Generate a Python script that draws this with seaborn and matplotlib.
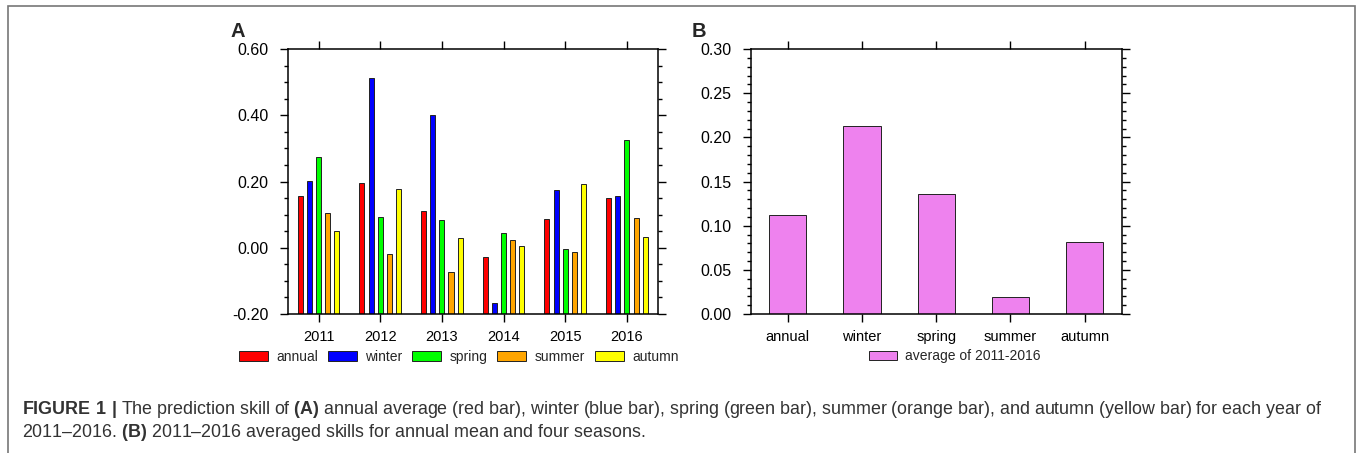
import matplotlib
matplotlib.use("Agg")
import pandas as pd
import matplotlib.pyplot as plt
import seaborn as sns
from matplotlib.patches import Patch, Rectangle
from matplotlib.ticker import MultipleLocator, FormatStrFormatter

# Values
years = ["2011", "2012", "2013", "2014", "2015", "2016"]
seasons = ["annual", "winter", "spring", "summer", "autumn"]
annual = [0.157, 0.195, 0.112, -0.027, 0.087, 0.149]
winter = [0.202, 0.512, 0.401, -0.166, 0.174, 0.155]
spring = [0.275, 0.093, 0.083, 0.044, -0.005, 0.326]
summer = [0.105, -0.018, -0.074, 0.022, -0.012, 0.091]
autumn = [0.051, 0.178, 0.028, 0.005, 0.194, 0.032]
avg_2011_2016 = [0.112, 0.213, 0.136, 0.019, 0.081]

season_colors = ["#FF0000", "#0000FF", "#00FF00", "#FFA500", "#FFFF00"]
avg_color = "#EE82EE"
edge = "#222222"
BASE = -0.2  # bars in panel A rise from the bottom of the axis

# Long table for panel A
dfA = pd.DataFrame({"year": years, "annual": annual, "winter": winter,
                    "spring": spring, "summer": summer, "autumn": autumn})
dfA = dfA.melt(id_vars="year", var_name="season", value_name="skill")
dfA["height"] = dfA["skill"] - BASE

dfB = pd.DataFrame({"season": seasons, "skill": avg_2011_2016})

sns.set_theme(style="ticks")
plt.rcParams["font.family"] = ["Liberation Sans", "DejaVu Sans"]
plt.rcParams["mathtext.fontset"] = "custom"
plt.rcParams["mathtext.rm"] = "Liberation Sans"
plt.rcParams["mathtext.bf"] = "Liberation Sans:bold"
plt.rcParams["axes.edgecolor"] = "black"

fig = plt.figure(figsize=(13.57, 4.53), dpi=100)
axA = fig.add_axes([0.2120, 0.3068, 0.2727, 0.585])
axB = fig.add_axes([0.5532, 0.3068, 0.2734, 0.585])

# A: yearly skills per season
sns.barplot(data=dfA, x="year", y="height", hue="season", order=years,
            hue_order=seasons, palette=season_colors, saturation=1,
            width=0.74, gap=0.45, bottom=BASE, edgecolor=edge,
            linewidth=0.7, legend=False, ax=axA)

# B: average over 2011-2016
sns.barplot(data=dfB, x="season", y="skill", order=seasons, color=avg_color,
            saturation=1, width=0.5, edgecolor=edge, linewidth=0.7, ax=axB)


def style(ax, ylim, major, minor, n):
    ax.set_xlim(-0.5, n - 0.5)
    ax.set_ylim(*ylim)
    ax.yaxis.set_major_locator(MultipleLocator(major))
    ax.yaxis.set_minor_locator(MultipleLocator(minor))
    ax.yaxis.set_major_formatter(FormatStrFormatter("%.2f"))
    ax.set_xlabel("")
    ax.set_ylabel("")
    for s in ax.spines.values():
        s.set_visible(True)
        s.set_linewidth(1.1)
        s.set_color("black")
    ax.tick_params(which="both", direction="out", top=True, right=True,
                   color="black", width=1.0, labelcolor="black")
    ax.tick_params(which="major", length=6)
    ax.tick_params(which="minor", length=3.2)
    ax.tick_params(axis="y", labelsize=11.5, pad=8)
    ax.tick_params(axis="x", labelsize=10.5, pad=5.5)


style(axA, (-0.2, 0.6), 0.2, 0.05, len(years))
style(axB, (0.0, 0.3), 0.05, 0.01, len(seasons))

# Legends under each panel
handlesA = [Patch(facecolor=c, edgecolor=edge, linewidth=0.7, label=s)
            for c, s in zip(season_colors, seasons)]
fig.legend(handles=handlesA, loc="center", bbox_to_anchor=(0.338, 0.212),
           ncol=5, frameon=False, fontsize=10, handlelength=2.1,
           handleheight=0.65, handletextpad=0.6, columnspacing=0.7,
           borderpad=0, borderaxespad=0)
handlesB = [Patch(facecolor=avg_color, edgecolor=edge, linewidth=0.7,
                  label="average of 2011-2016")]
fig.legend(handles=handlesB, loc="center", bbox_to_anchor=(0.7038, 0.214),
           frameon=False, fontsize=10, handlelength=2.0, handleheight=0.65,
           handletextpad=0.6, borderpad=0, borderaxespad=0)

# Panel letters
fig.text(0.1695, 0.919, "A", fontsize=14.5, fontweight="bold", va="baseline")
fig.text(0.510, 0.919, "B", fontsize=14.5, fontweight="bold", va="baseline")

# Caption
line1 = (r"$\mathbf{FIGURE\ 1\ |}$ The prediction skill of $\mathbf{(A)}$ annual "
         "average (red bar), winter (blue bar), spring (green bar), summer "
         "(orange bar), and autumn (yellow bar) for each year of")
line2 = (r"2011–2016. $\mathbf{(B)}$ 2011–2016 averaged skills for annual mean "
         "and four seasons.")
fig.text(0.0162, 0.0861, line1, fontsize=12.9, color="#333333", va="baseline")
fig.text(0.0162, 0.0353, line2, fontsize=12.9, color="#333333", va="baseline")

# Page frame
fig.add_artist(Rectangle((8 / 1357, -0.05), 1347 / 1357, 1 - 6.5 / 453 + 0.05,
                         transform=fig.transFigure, fill=False,
                         edgecolor="#777777", linewidth=1.2))

fig.savefig("out.png", dpi=100)
